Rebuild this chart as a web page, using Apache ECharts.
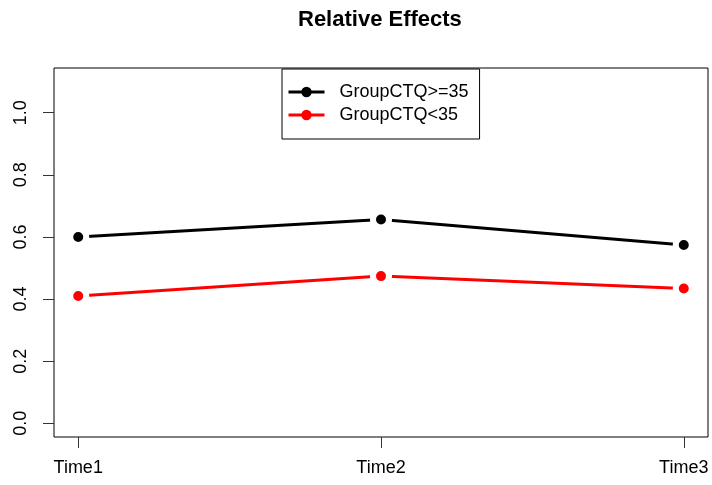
<!DOCTYPE html>
<html>
<head>
<meta charset="utf-8">
<script src="https://cdn.jsdelivr.net/npm/echarts@6/dist/echarts.min.js"></script>
<style>
  html, body { margin: 0; padding: 0; background: #fff; }
  #chart { width: 712px; height: 485px; }
</style>
</head>
<body>
<div id="chart"></div>
<script>
    var categories = ['Time1', 'Time2', 'Time3'];
    var groupHigh = [0.600, 0.656, 0.574];   // GroupCTQ>=35
    var groupLow = [0.410, 0.474, 0.434];    // GroupCTQ<35
    var yTicks = [0, 0.2, 0.4, 0.6, 0.8, 1.0];
    var xTicks = [1, 2, 3];

    var font = "'Liberation Sans', Arial, sans-serif";

    function toPoints(vals) {
        return vals.map(function (v, i) { return [i + 1, v]; });
    }

    var dom = document.getElementById('chart');
    var myChart = echarts.init(dom, null, { renderer: 'canvas' });

    var lineSeries = function (name, color, vals) {
        return {
            name: name,
            type: 'line',
            data: toPoints(vals),
            symbol: 'circle',
            symbolSize: 16,
            lineStyle: { color: color, width: 3 },
            itemStyle: { color: color, borderColor: '#fff', borderWidth: 6 },
            emphasis: { disabled: true },
            z: 3
        };
    };

    var option = {
        animation: false,
        backgroundColor: '#fff',
        textStyle: { fontFamily: font },
        title: {
            text: 'Relative Effects',
            left: 298,
            top: 9,
            padding: 0,
            textStyle: { fontFamily: font, fontWeight: 'bold', fontSize: 22, color: '#000' }
        },
        legend: {
            orient: 'vertical',
            left: 282,
            top: 69,
            padding: [12, 11, 13, 5],
            borderColor: '#000',
            borderWidth: 1,
            backgroundColor: '#fff',
            itemWidth: 36,
            itemHeight: 13,
            itemGap: 1,
            itemStyle: { borderWidth: 0 },
            lineStyle: { width: 3 },
            textStyle: { fontFamily: font, fontSize: 18, color: '#000', lineHeight: 22, padding: [0, 0, 0, 10] },
            data: ['GroupCTQ>=35', 'GroupCTQ<35']
        },
        grid: {
            left: 54, right: 4, top: 68, bottom: 48,
            show: true, borderColor: '#000', borderWidth: 1, containLabel: false
        },
        xAxis: {
            type: 'value',
            min: 0.92,
            max: 3.08,
            axisLine: { show: false, onZero: false },
            splitLine: { show: false },
            axisTick: { show: true, customValues: xTicks, length: 11, lineStyle: { color: '#333' } },
            axisLabel: {
                customValues: xTicks,
                margin: 22,
                fontFamily: font, fontSize: 18, color: '#000',
                formatter: function (v) { return categories[Math.round(v) - 1]; }
            }
        },
        yAxis: {
            type: 'value',
            min: -0.044,
            max: 1.144,
            axisLine: { show: false, onZero: false },
            splitLine: { show: false },
            axisTick: { show: true, customValues: yTicks, length: 11, lineStyle: { color: '#333' } },
            axisLabel: {
                customValues: yTicks,
                rotate: 90,
                margin: 24,
                fontFamily: font, fontSize: 18, color: '#000',
                formatter: function (v) { return v.toFixed(1); }
            }
        },
        series: [
            lineSeries('GroupCTQ>=35', '#000', groupHigh),
            lineSeries('GroupCTQ<35', '#ff0000', groupLow)
        ]
    };

    option && myChart.setOption(option);
</script>
</body>
</html>
